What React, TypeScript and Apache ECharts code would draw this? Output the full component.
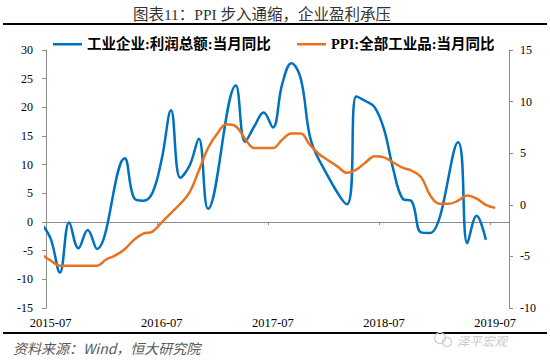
import React, { useEffect, useRef } from "react";
import * as echarts from "echarts";

// Months of the data (index 0 = 2015-06, just left of the plotted window)
const months = [
  "2015-06", "2015-07", "2015-08", "2015-09", "2015-10", "2015-11", "2015-12",
  "2016-01", "2016-02", "2016-03", "2016-04", "2016-05", "2016-06", "2016-07",
  "2016-08", "2016-09", "2016-10", "2016-11", "2016-12", "2017-01", "2017-02",
  "2017-03", "2017-04", "2017-05", "2017-06", "2017-07", "2017-08", "2017-09",
  "2017-10", "2017-11", "2017-12", "2018-01", "2018-02", "2018-03", "2018-04",
  "2018-05", "2018-06", "2018-07", "2018-08", "2018-09", "2018-10", "2018-11",
  "2018-12", "2019-01", "2019-02", "2019-03", "2019-04", "2019-05", "2019-06",
  "2019-07",
];

// 工业企业:利润总额:当月同比 (%), null = no monthly value (Jan/Feb)
const profitYoY = [
  -0.3, -2.9, -8.8, -0.1, -4.6, -1.4, -4.7,
  null, null, 11.1, 4.2, 3.7, 5.1, 11.0,
  19.5, 7.7, 9.8, 14.5, 2.3, null, null,
  23.8, 14.0, 16.7, 19.1, 16.5, 24.0, 27.7,
  25.1, 14.9, 10.8, null, null, 3.1, 21.9,
  21.1, 20.0, 16.2, 9.2, 4.1, 3.6, -1.8,
  -1.9, null, null, 13.9, -3.7, 1.1, -3.1,
  null,
];

// PPI:全部工业品:当月同比 (%)
const ppiYoY = [
  -4.8, -5.4, -5.9, -5.9, -5.9, -5.9, -5.9,
  -5.3, -4.9, -4.3, -3.4, -2.8, -2.6, -1.7,
  -0.8, 0.1, 1.2, 3.3, 5.5, 6.9, 7.8,
  7.6, 6.4, 5.5, 5.5, 5.5, 6.3, 6.9,
  6.9, 5.8, 4.9, 4.3, 3.7, 3.1, 3.4,
  4.1, 4.7, 4.6, 4.1, 3.6, 3.3, 2.7,
  0.9, 0.1, 0.1, 0.4, 0.9, 0.6, 0.0,
  -0.3,
];

const labelMonths = ["2015-07", "2016-07", "2017-07", "2018-07", "2019-07"];

const seriesNames = ["工业企业:利润总额:当月同比", "PPI:全部工业品:当月同比"];
const titleText = "图表11：PPI 步入通缩，企业盈利承压";
const sourceText = "资料来源：Wind，恒大研究院";
const watermarkText = "泽平宏观";

const SERIF = '"Liberation Serif", "Times New Roman", "Noto Sans CJK SC", serif';
const CJK = '"Noto Sans CJK SC", "Liberation Serif", sans-serif';
const BLUE = "#0070C0";
const ORANGE = "#E8731E";
const AXIS = "#8c8c8c";

export default function App() {
  const ref = useRef<HTMLDivElement>(null);
  useEffect(() => {
    const chart = echarts.init(ref.current!, null, { renderer: "svg" });
    const labelIdx = labelMonths.map((m) => months.indexOf(m));
    const tickIdx = labelIdx.slice(1).map((i) => i - 0.5);
    const toPairs = (arr: (number | null)[]) =>
      arr.map((v, i) => [i, v]).filter((p) => p[1] !== null);

    chart.setOption({
      animation: false,
      grid: { left: 46, right: 41, top: 50, bottom: 53, containLabel: false },
      legend: [
        {
          left: 53,
          top: 37,
          padding: 0,
          icon: "rect",
          itemWidth: 29,
          itemHeight: 2.5,
          data: [{ name: seriesNames[0] }],
          textStyle: { fontFamily: SERIF, fontSize: 14.5, fontWeight: "bold", color: "#000" },
        },
        {
          left: 297,
          top: 37,
          padding: 0,
          icon: "rect",
          itemWidth: 29,
          itemHeight: 2.5,
          data: [{ name: seriesNames[1] }],
          textStyle: { fontFamily: SERIF, fontSize: 14.5, fontWeight: "bold", color: "#000" },
        },
      ],
      xAxis: [
        {
          type: "value",
          min: 0.5,
          max: 50.5,
          position: "bottom",
          axisLine: { show: false, onZero: false },
          axisTick: { show: false },
          splitLine: { show: false },
          axisLabel: {
            customValues: labelIdx,
            formatter: (v: number) => months[Math.round(v)],
            fontFamily: SERIF,
            fontSize: 12.5,
            color: "#000",
            margin: 9,
          },
        },
        {
          type: "value",
          min: 0.5,
          max: 50.5,
          position: "top",
          axisLine: { show: true, onZero: true, onZeroAxisIndex: 0, lineStyle: { color: AXIS, width: 1 } },
          axisTick: { show: true, inside: true, length: 3, customValues: tickIdx, lineStyle: { color: AXIS } },
          axisLabel: { show: false },
          splitLine: { show: false },
        },
      ],
      yAxis: [
        {
          type: "value",
          min: -15,
          max: 30,
          interval: 5,
          position: "left",
          axisLine: { show: true, onZero: false, lineStyle: { color: AXIS } },
          axisTick: { show: true, length: 4, lineStyle: { color: AXIS } },
          axisLabel: { fontFamily: SERIF, fontSize: 12, color: "#000", margin: 13 },
          splitLine: { show: false },
        },
        {
          type: "value",
          min: -10,
          max: 15,
          interval: 5,
          position: "right",
          axisLine: { show: true, onZero: false, lineStyle: { color: AXIS } },
          axisTick: { show: true, length: 4, lineStyle: { color: AXIS } },
          axisLabel: { fontFamily: SERIF, fontSize: 12, color: "#000", margin: 11 },
          splitLine: { show: false },
        },
      ],
      series: [
        {
          name: seriesNames[0],
          type: "line",
          xAxisIndex: 0,
          yAxisIndex: 0,
          data: toPairs(profitYoY),
          smooth: 0.4,
          showSymbol: false,
          lineStyle: { color: BLUE, width: 2.5 },
          itemStyle: { color: BLUE },
        },
        {
          name: seriesNames[1],
          type: "line",
          xAxisIndex: 0,
          yAxisIndex: 1,
          data: toPairs(ppiYoY),
          smooth: 0.4,
          showSymbol: false,
          lineStyle: { color: ORANGE, width: 2.5 },
          itemStyle: { color: ORANGE },
        },
      ],
      graphic: [
        {
          type: "text",
          x: 262,
          y: 14,
          style: {
            text: titleText,
            fontFamily: SERIF,
            fontSize: 15.5,
            fill: "#333",
            align: "center",
            verticalAlign: "middle",
          },
        },
        {
          type: "line",
          shape: { x1: 3, y1: 24, x2: 547, y2: 24 },
          style: { stroke: "#000", lineWidth: 2 },
        },
        {
          type: "line",
          shape: { x1: 3, y1: 333, x2: 547, y2: 333 },
          style: { stroke: "#000", lineWidth: 2 },
        },
        {
          type: "text",
          x: 13,
          y: 348,
          style: {
            text: sourceText,
            fontFamily: CJK,
            fontSize: 14,
            fontStyle: "italic",
            fill: "#595959",
            align: "left",
            verticalAlign: "middle",
          },
        },
        {
          type: "circle",
          shape: { cx: 440, cy: 338, r: 5.5 },
          style: { fill: "none", stroke: "#cfcfcf", lineWidth: 1.2 },
        },
        {
          type: "circle",
          shape: { cx: 447, cy: 342, r: 4.5 },
          style: { fill: "none", stroke: "#cfcfcf", lineWidth: 1.2 },
        },
        {
          type: "text",
          x: 457,
          y: 340,
          style: {
            text: watermarkText,
            fontFamily: CJK,
            fontSize: 12.5,
            fontStyle: "italic",
            fill: "#c8c8c8",
            align: "left",
            verticalAlign: "middle",
          },
        },
      ],
    });
    return () => chart.dispose();
  }, []);
  return (
    <div
      ref={ref}
      style={{ position: "absolute", left: 0, top: 0, width: 550, height: 361 }}
    />
  );
}
